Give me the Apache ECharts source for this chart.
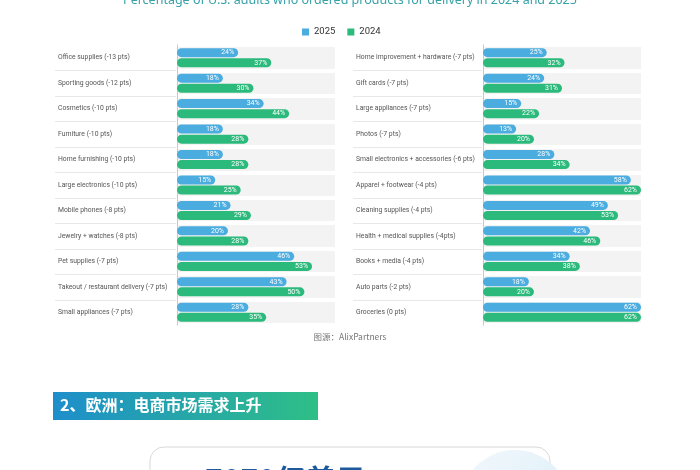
<!DOCTYPE html>
<html><head><meta charset="utf-8">
<script src="https://cdn.jsdelivr.net/npm/echarts@6/dist/echarts.min.js"></script>
<style>html,body{margin:0;padding:0;background:#fff}#c{width:700px;height:470px}</style>
</head><body><div id="c"></div>
<script>
const leftCats = ['Office supplies (-13 pts)','Sporting goods (-12 pts)','Cosmetics (-10 pts)','Furniture (-10 pts)','Home furnishing (-10 pts)','Large electronics (-10 pts)','Mobile phones (-8 pts)','Jewelry + watches (-8 pts)','Pet supplies (-7 pts)','Takeout / restaurant delivery (-7 pts)','Small appliances (-7 pts)'];
const left2025 = [24,18,34,18,18,15,21,20,46,43,28];
const left2024 = [37,30,44,28,28,25,29,28,53,50,35];
const rightCats = ['Home improvement + hardware (-7 pts)','Gift cards (-7 pts)','Large appliances (-7 pts)','Photos (-7 pts)','Small electronics + accessories (-6 pts)','Apparel + footwear (-4 pts)','Cleaning supplies (-4 pts)','Health + medical supplies (-4pts)','Books + media (-4 pts)','Auto parts (-2 pts)','Groceries (0 pts)'];
const right2025 = [25,24,15,13,28,58,49,42,34,18,62];
const right2024 = [32,31,22,20,34,62,53,46,38,20,62];
const seriesNames = ['2025','2024'];
const titleText = 'Percentage of U.S. adults who ordered products for delivery in 2024 and 2025';
const sourceText = '图源：AlixPartners';
const headingText = '2、欧洲：电商市场需求上升';
const bigText = '7070亿美元';

const BLUE = '#4aacdf', GREEN = '#2cba7c';
const FONT = 'Roboto';
const chart = echarts.init(document.getElementById('c'), null, {renderer:'canvas'});

function yAx(cats, gi, margin){
  return {type:'category', gridIndex:gi, data:cats, inverse:true,
    axisLine:{show:true, lineStyle:{color:'#c8c8c8', width:1}}, axisTick:{show:false},
    axisLabel:{align:'left', margin:margin, color:'#555', fontSize:6.8, fontFamily:FONT},
    splitArea:{show:true, interval:0, areaStyle:{color:['#f3f3f3','#f3f3f3']}},
    splitLine:{show:true, interval:0, lineStyle:{color:'#ffffff', width:4}}};
}
function xAx(gi){ return {type:'value', gridIndex:gi, min:0, max:62, show:false}; }
function bar(name, data, color, gi){
  return {name:name, type:'bar', xAxisIndex:gi, yAxisIndex:gi, data:data, barWidth:9, barGap:'12%',
    itemStyle:{color:color, borderRadius:5},
    label:{show:true, position:'insideRight', formatter:'{c}%', color:'#fff', fontSize:7, fontFamily:FONT, distance:4}};
}
const grids = [
  {left:177, top:45, width:158, height:280},
  {left:483, top:45, width:158, height:280}
];
const graphics = [
  {type:'text', left:'center', top:-6, style:{text:titleText, fill:'#36a2a8', font:'12.5px "Noto Sans"'}},
  {type:'text', left:'center', top:333, style:{text:sourceText, fill:'#777', font:'8.5px "Noto Sans CJK SC"'}},
  {type:'rect', shape:{x:53, y:392, width:265, height:28}, style:{fill:new echarts.graphic.LinearGradient(0,0,1,0,[{offset:0,color:'#1e8ecb'},{offset:1,color:'#2ebf86'}])}},
  {type:'text', x:60, y:397, style:{text:headingText, fill:'#fff', font:'bold 16px "Noto Sans CJK SC"'}},
  {type:'rect', shape:{x:150, y:447, width:400, height:60, r:14}, style:{fill:'#fff', stroke:'#d8d8d8', lineWidth:1}},
  {type:'circle', shape:{cx:515, cy:505, r:55}, style:{fill:new echarts.graphic.LinearGradient(0,0,1,1,[{offset:0,color:'#f2f8fc'},{offset:1,color:'#d8ecf7'}])}},
  {type:'text', x:205, y:465, style:{text:bigText, fill:'#1d5a9c', font:'bold 30px "Noto Sans CJK SC"'}}
];
const rowH = 280/11;
for (let i=1;i<11;i++){
  const y = Math.round(45 + rowH*i) + 0.5;
  graphics.push({type:'line', shape:{x1:55,y1:y,x2:176,y2:y}, style:{stroke:'#e8e8e8', lineWidth:1}});
  graphics.push({type:'line', shape:{x1:353,y1:y,x2:482,y2:y}, style:{stroke:'#e8e8e8', lineWidth:1}});
}
chart.setOption({
  animation:false,
  legend:{data:seriesNames, left:297, top:22, icon:'rect', itemWidth:7, itemHeight:7, itemGap:12,
    textStyle:{fontSize:9.5, color:'#333', fontFamily:FONT}},
  grid:grids,
  xAxis:[xAx(0), xAx(1)],
  yAxis:[yAx(leftCats,0,119), yAx(rightCats,1,127)],
  series:[bar(seriesNames[0], left2025, BLUE, 0), bar(seriesNames[1], left2024, GREEN, 0),
          bar(seriesNames[0], right2025, BLUE, 1), bar(seriesNames[1], right2024, GREEN, 1)],
  graphic:graphics
});
</script></body></html>
